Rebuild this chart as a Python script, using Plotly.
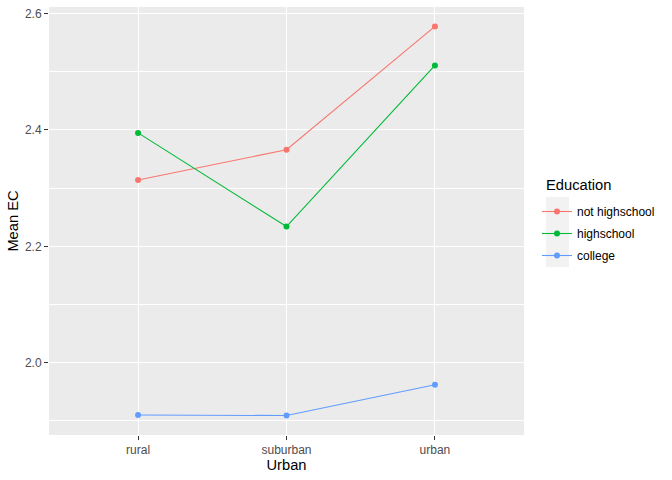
import plotly.graph_objects as go

urban_levels = ["rural", "suburban", "urban"]
education = ["not highschool", "highschool", "college"]
mean_ec = {
    "not highschool": [2.314, 2.366, 2.578],
    "highschool": [2.395, 2.234, 2.511],
    "college": [1.910, 1.909, 1.962],
}
colors = {"not highschool": "#F8766D", "highschool": "#00BA38", "college": "#619CFF"}
y_ticks = [2.0, 2.2, 2.4, 2.6]

xpos = list(range(1, len(urban_levels) + 1))

fig = go.Figure()
for ed in education:
    fig.add_trace(go.Scatter(
        x=xpos, y=mean_ec[ed], name=ed, mode="lines+markers", legendgroup=ed,
        line=dict(color=colors[ed], width=1.1),
        marker=dict(color=colors[ed], size=6),
    ))

allv = [v for ed in education for v in mean_ec[ed]]
lo, hi = min(allv), max(allv)
pad = (hi - lo) * 0.05

L, R, T, B = 49, 148, 7, 45
pw, ph = 672 - L - R, 480 - T - B

def px_x(p):
    return (p - L) / pw

def px_y(p):
    return (480 - B - p) / ph

fig.update_layout(
    width=672, height=480,
    margin=dict(l=L, r=R, t=T, b=B, autoexpand=False),
    paper_bgcolor="white", plot_bgcolor="#EBEBEB",
    font=dict(family="Liberation Sans, Arial, sans-serif", color="black"),
    showlegend=True,
    legend=dict(
        font=dict(size=12, color="black"),
        x=px_x(537), xanchor="left", y=px_y(197), yanchor="top",
        bgcolor="rgba(0,0,0,0)", itemwidth=30, tracegroupgap=3,
    ),
    annotations=[dict(
        text="Education", xref="paper", yref="paper", showarrow=False,
        x=px_x(544), xanchor="left", y=px_y(185), yanchor="middle",
        font=dict(size=14.7, color="black"),
    )],
    shapes=[dict(
        type="rect", xref="paper", yref="paper", layer="below",
        x0=px_x(546), x1=px_x(569), y0=px_y(267), y1=px_y(197),
        fillcolor="#F2F2F2", line=dict(width=0),
    )],
    xaxis=dict(
        range=[0.4, 3.6], tickvals=xpos, ticktext=urban_levels, automargin=False,
        showgrid=True, gridcolor="white", gridwidth=1.1, zeroline=False,
        ticks="outside", ticklen=4, tickcolor="#333333", tickwidth=1.1,
        tickfont=dict(size=12, color="#4D4D4D"),
        title=dict(text="Urban", font=dict(size=14.7, color="black"), standoff=2),
        showline=False,
    ),
    yaxis=dict(
        range=[lo - pad, hi + pad], tickvals=y_ticks, automargin=False,
        ticktext=[f"{v:.1f}" for v in y_ticks],
        showgrid=True, gridcolor="white", gridwidth=1.1, zeroline=False,
        ticks="outside", ticklen=4, tickcolor="#333333", tickwidth=1.1,
        tickfont=dict(size=12, color="#4D4D4D"),
        title=dict(text="Mean EC", font=dict(size=14.7, color="black"), standoff=2),
        minor=dict(tick0=1.9, dtick=0.1, showgrid=True, gridcolor="white", gridwidth=0.55, ticks=""),
        showline=False,
    ),
)

fig.write_html("out.html", config={"displayModeBar": False},
               post_script="document.body.style.margin='0';")
